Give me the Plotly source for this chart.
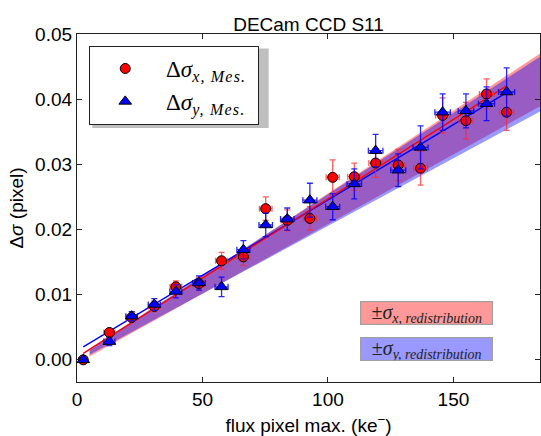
import plotly.graph_objects as go

# Measured shift of the PSF width vs. peak pixel flux (DECam CCD S11)
flux = [2.5, 12.9, 21.8, 30.8, 39.4, 48.6, 57.6, 66.3, 75.2, 83.8,
        92.8, 101.9, 110.5, 119.0, 128.0, 136.9, 145.7, 155.0, 163.2, 171.2]

dsig_x = [0.0000, 0.0042, 0.0065, 0.0082, 0.0112, 0.0117, 0.0152, 0.0158, 0.0232, 0.0214,
          0.0217, 0.0280, 0.0281, 0.0302, 0.0299, 0.0294, 0.0375, 0.0367, 0.0408, 0.0380]
dsig_x_err = [0.0004, 0.0006, 0.0007, 0.0008, 0.0009, 0.0010, 0.0013, 0.0013, 0.0018, 0.0016,
              0.0018, 0.0027, 0.0021, 0.0022, 0.0024, 0.0026, 0.0027, 0.0028, 0.0023, 0.0028]
flux_err_x = [1.2, 2.2, 2.2, 2.3, 2.3, 2.4, 2.4, 2.5, 2.5, 2.5,
              2.6, 2.6, 2.6, 2.7, 2.7, 2.7, 2.8, 2.8, 2.8, 2.8]

dsig_y = [0.0000, 0.0028, 0.0067, 0.0085, 0.0105, 0.0118, 0.0112, 0.0169, 0.0207, 0.0216,
          0.0245, 0.0235, 0.0270, 0.0321, 0.0291, 0.0326, 0.0380, 0.0382, 0.0393, 0.0411]
dsig_y_err = [0.0004, 0.0006, 0.0007, 0.0009, 0.0010, 0.0011, 0.0015, 0.0014, 0.0018, 0.0017,
              0.0026, 0.0020, 0.0023, 0.0025, 0.0025, 0.0033, 0.0028, 0.0026, 0.0026, 0.0037]
flux_err_y = [1.5, 2.2, 2.3, 2.4, 2.4, 2.5, 2.6, 2.6, 2.7, 2.7,
              2.8, 2.8, 2.9, 2.9, 3.0, 3.0, 3.1, 3.1, 3.2, 3.2]

# Linear fits (intercept, slope)
fit_x = (0.00039, 0.0002433)
fit_y = (0.00140, 0.0002314)

# Redistribution envelopes
band_flux = [5.0, 184.5]
band_x_lo = [0.0005, 0.0389]
band_x_hi = [0.0014, 0.0470]
band_y_lo = [0.0008, 0.0381]
band_y_hi = [0.0017, 0.0465]

RED_FILL = "rgba(255,0,0,0.4)"
BLUE_FILL = "rgba(0,0,255,0.4)"
SERIF = "Liberation Serif"
SANS = "Liberation Sans"

SUB_STYLE = "font-size:16px;letter-spacing:1.2px"

fig = go.Figure()

for lo, hi, col in [(band_x_lo, band_x_hi, RED_FILL), (band_y_lo, band_y_hi, BLUE_FILL)]:
    fig.add_trace(go.Scatter(x=band_flux, y=lo, mode="lines", line=dict(width=0),
                             showlegend=False, hoverinfo="skip"))
    fig.add_trace(go.Scatter(x=band_flux, y=hi, mode="lines", line=dict(width=0),
                             fill="tonexty", fillcolor=col, showlegend=False, hoverinfo="skip"))

span = [flux[0], flux[-1]]
for (b, a), col in [(fit_y, "blue"), (fit_x, "red")]:
    fig.add_trace(go.Scatter(x=span, y=[b + a * v for v in span], mode="lines",
                             line=dict(color=col, width=1.4), showlegend=False, hoverinfo="skip"))

fig.add_trace(go.Scatter(
    x=flux, y=dsig_x, mode="markers",
    name=f"&nbsp;Δ<i>σ</i><sub><span style='{SUB_STYLE}'><i>x, Mes.</i></span></sub>&nbsp;",
    marker=dict(symbol="circle", size=10, color="red", line=dict(color="black", width=1)),
    error_y=dict(type="data", array=dsig_x_err, color="rgba(255,40,40,0.75)", thickness=1.3, width=3),
    error_x=dict(type="data", array=flux_err_x, color="rgba(255,40,40,0.75)", thickness=1.3, width=3),
))
fig.add_trace(go.Scatter(
    x=flux, y=dsig_y, mode="markers",
    name=f"&nbsp;Δ<i>σ</i><sub><span style='{SUB_STYLE}'><i>y, Mes.</i></span></sub>&nbsp;",
    marker=dict(symbol="triangle-up", size=11, color="blue", line=dict(color="black", width=1)),
    error_y=dict(type="data", array=dsig_y_err, color="rgba(0,0,255,0.85)", thickness=1.3, width=3),
    error_x=dict(type="data", array=flux_err_y, color="rgba(0,0,255,0.85)", thickness=1.3, width=3),
))

axis_common = dict(showgrid=False, zeroline=False, showline=True, linecolor="#222",
                   linewidth=1.3, mirror="ticks", ticks="inside", ticklen=5,
                   tickcolor="#222", tickwidth=1.2,
                   tickfont=dict(family=SANS, size=19, color="black"))

fig.update_layout(
    width=541, height=436,
    margin=dict(l=77, r=1, t=34, b=54),
    paper_bgcolor="white", plot_bgcolor="white",
    title=dict(text="DECam CCD S11", x=0.5, xref="paper", y=1, yref="paper",
               yanchor="bottom", pad=dict(b=3),
               font=dict(family=SANS, size=19, color="black")),
    xaxis=dict(range=[0, 184.5], tickvals=[0, 50, 100, 150],
               title=dict(text="flux pixel max. (ke<sup>−</sup>)", standoff=12,
                          font=dict(family=SANS, size=19, color="black")),
               **axis_common),
    yaxis=dict(range=[-0.0034, 0.05], tickvals=[0.0, 0.01, 0.02, 0.03, 0.04, 0.05],
               tickformat=".2f",
               title=dict(text="Δ<i>σ</i> (pixel)", standoff=6,
                          font=dict(family=SANS, size=19, color="black")),
               **axis_common),
    legend=dict(x=0.026, y=0.966, xanchor="left", yanchor="top", traceorder="normal",
                bgcolor="white", bordercolor="#222", borderwidth=1.2,
                itemwidth=60, font=dict(family=SERIF, size=23, color="black")),
    showlegend=True,
)

# soft drop shadow behind the legend box
fig.add_shape(type="rect", xref="paper", yref="paper",
              x0=0.033, x1=0.414, y0=0.730, y1=0.958,
              fillcolor="rgba(0,0,0,0.25)", line=dict(width=0), layer="above")

for txt, col, yc in [("±<i>σ</i><sub><i>x,&nbsp;redistribution</i></sub>", RED_FILL, 0.197),
                     ("±<i>σ</i><sub><i>y,&nbsp;redistribution</i></sub>", BLUE_FILL, 0.096)]:
    fig.add_annotation(x=0.755, y=yc, xref="paper", yref="paper", showarrow=False,
                       xanchor="center", yanchor="middle",
                       text=txt, bgcolor=col, bordercolor="#a0a0a0", borderwidth=1.2,
                       borderpad=0, width=131, height=22, align="center", valign="middle",
                       font=dict(family=SERIF, size=20, color="#222"))

fig.write_html("out.html")
